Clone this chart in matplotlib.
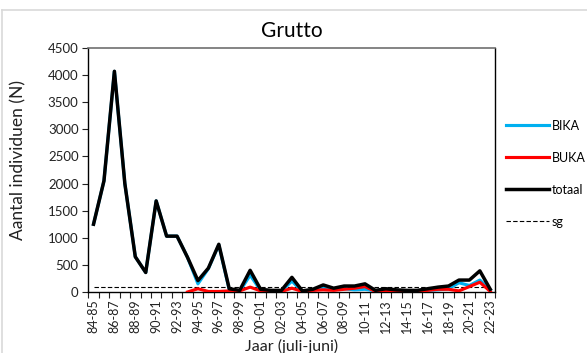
import numpy as np
import matplotlib
matplotlib.use("Agg")
import matplotlib.pyplot as plt
from matplotlib.lines import Line2D

plt.rcParams['font.family'] = ['Lato', 'DejaVu Sans']

# ---- data ----
seasons = ["84-85", "85-86", "86-87", "87-88", "88-89", "89-90", "90-91", "91-92",
           "92-93", "93-94", "94-95", "95-96", "96-97", "97-98", "98-99", "99-00",
           "00-01", "01-02", "02-03", "03-04", "04-05", "05-06", "06-07", "07-08",
           "08-09", "09-10", "10-11", "11-12", "12-13", "13-14", "14-15", "15-16",
           "16-17", "17-18", "18-19", "19-20", "20-21", "21-22", "22-23"]

totaal = [1250, 2050, 4070, 2000, 650, 360, 1680, 1030, 1030, 640,
          210, 440, 880, 60, 30, 400, 50, 30, 30, 270,
          20, 50, 130, 70, 110, 110, 150, 30, 60, 40,
          30, 30, 60, 90, 110, 220, 220, 390, 50]

bika = [1250, 2050, 4070, 2000, 650, 360, 1680, 1030, 1030, 640,
        150, 430, 870, 40, 10, 310, 30, 20, 20, 200,
        10, 20, 90, 40, 60, 40, 50, 20, 40, 20,
        20, 20, 30, 40, 60, 170, 120, 220, 40]

buka = [np.nan, np.nan, np.nan, np.nan, np.nan, np.nan, np.nan, np.nan, np.nan, 0,
        60, 10, 10, 20, 20, 90, 20, 10, 10, 70,
        10, 30, 40, 30, 50, 70, 100, 10, 20, 20,
        10, 10, 30, 50, 50, 20, 100, 180, 10]

sg_value = 90

yticks = [0, 500, 1000, 1500, 2000, 2500, 3000, 3500, 4000, 4500]

# ---- figure ----
W, H = 587, 353
fig = plt.figure(figsize=(W / 100, H / 100), dpi=100)
L, R, T, B = 88.3, 495.5, 48, 292
ax = fig.add_axes([L / W, 1 - B / H, (R - L) / W, (B - T) / H])

x = np.arange(len(seasons))
ax.plot(x, bika, color='#00B0F0', lw=2.25, solid_joinstyle='round', label='BIKA', zorder=3)
ax.plot(x, buka, color='#FF0000', lw=2.25, solid_joinstyle='round', label='BUKA', zorder=4)
ax.plot(x, totaal, color='black', lw=2.5, solid_joinstyle='round', label='totaal', zorder=5)
ax.plot(x, [sg_value] * len(x), color='black', lw=0.8, dashes=(4, 2), label='sg', zorder=2)

ax.set_xlim(-0.5, len(seasons) - 0.5)
ax.set_ylim(0, 4500)
ax.set_yticks(yticks)
ax.set_yticklabels([str(v) for v in yticks], fontsize=9.5, color='#222222')
ax.tick_params(axis='y', direction='out', length=4, width=0.8, pad=3, color='#222222')

ax.set_xticks(x[::2])
ax.set_xticklabels(seasons[::2], rotation=90, fontsize=9, color='#222222')
ax.set_xticks(np.arange(-0.5, len(seasons), 1.0), minor=True)
ax.tick_params(axis='x', which='major', length=0, pad=5)
ax.tick_params(axis='x', which='minor', direction='out', length=4, width=0.8, color='#222222')

for s in ['left', 'bottom', 'right']:
    ax.spines[s].set_color('black')
    ax.spines[s].set_linewidth(1.0)
ax.spines['top'].set_color('#707070')
ax.spines['top'].set_linewidth(1.2)

ax.set_title('Grutto', fontsize=15, pad=8, color='black')
ax.set_ylabel('Aantal individuen (N)', fontsize=12.5, color='#222222')
ax.yaxis.set_label_coords((26 - L) / (R - L), (B - 160) / (B - T))
ax.set_xlabel('Jaar (juli-juni)', fontsize=11.5, color='#222222')
ax.xaxis.set_label_coords(0.5, -(339 - B) / (B - T))

leg = fig.legend(loc='center left', bbox_to_anchor=(506 / W, 1 - 173.5 / H),
                 frameon=False, fontsize=9, handlelength=3.4, handletextpad=0.25,
                 labelspacing=1.6, borderpad=0, borderaxespad=0)

# outer chart border (light gray)
fig.add_artist(Line2D([2 / W, 2 / W], [0, 1 - 9.5 / H], transform=fig.transFigure,
                      color='#d9d9d9', lw=1.2))
fig.add_artist(Line2D([2 / W, 1], [1 - 9.5 / H, 1 - 9.5 / H], transform=fig.transFigure,
                      color='#d9d9d9', lw=1.2))

fig.savefig('out.png', dpi=100, facecolor='white')
